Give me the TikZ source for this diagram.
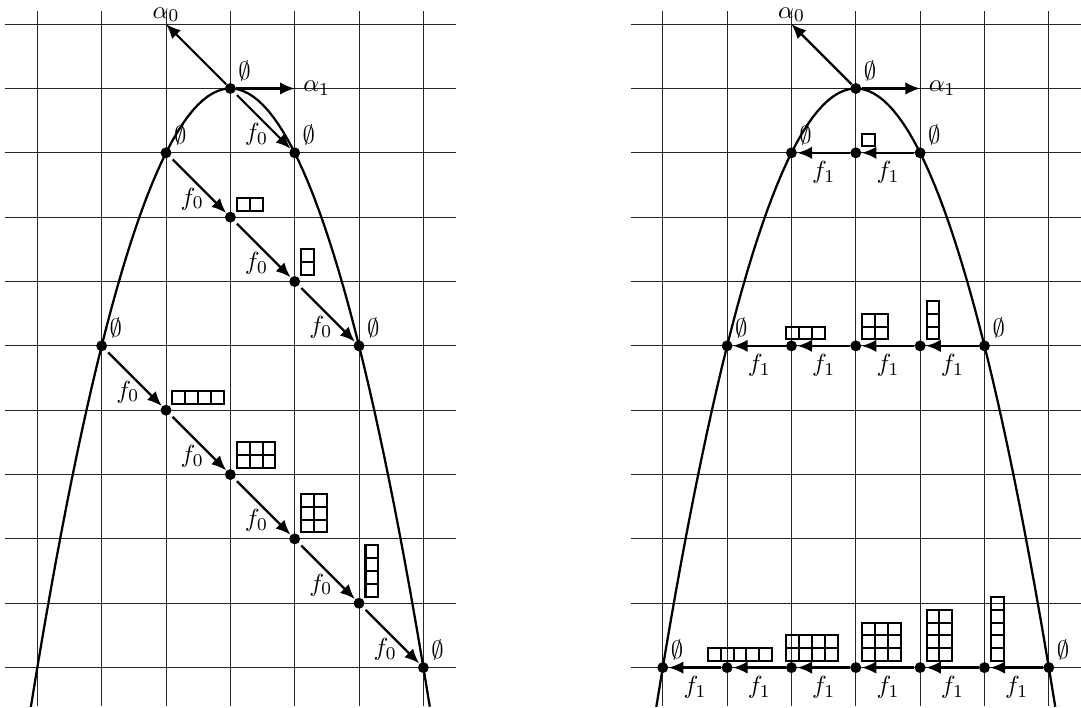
\documentclass[tikz,border=0pt]{standalone}
\usepackage{amsmath,amssymb}
\usepackage{tikz}
\usetikzlibrary{arrows.meta}
\tikzset{
    gridline/.style={line width=0.45pt, black!85},
    parab/.style={line width=1pt, black},
    dot/.style={circle, fill=black, inner sep=0pt, minimum size=0.17cm},
    % 空分拆标签
    emptylabel/.style={label={[inner sep=1.5pt]above right:$\emptyset$}},
    farrow/.style={
        line width=1pt,
        black,
        -{Latex[length=6.5pt, width=5.5pt]}
    },
    flabel/.style={left, near end}
}
% Young 图: 点, x 偏移, 列数, 行数
\newcommand{\ydiag}[4]{%
  \begin{scope}[shift={(#1)}]
    \foreach \i in {1,...,#3}{
      \foreach \j in {1,...,#4}{
        \draw[line width=0.9pt] (#2+\i*0.2-0.2, 0.1+\j*0.2-0.2) rectangle ++(0.2,0.2);
      }
    }
  \end{scope}}

\begin{document}
\begin{tikzpicture}[font=\fontsize{11}{13}\selectfont]
  \useasboundingbox (-3.58,-9.62) rectangle (13.22,1.375);

  % 左图
  \foreach \y in {1,0,...,-9} \draw[gridline] (-3.5,\y) -- (3.5,\y);
  \foreach \x in {-3,...,3} \draw[gridline] (\x,1.2) -- (\x,-9.6);
  \draw[parab] plot[domain=-3.1:3.1, samples=80] (\x,{-\x*\x});

  \node[dot, emptylabel] (L0) at (0,0) {};
  \coordinate (La0) at (-1,1);
  \coordinate (La1) at (1,0);
  \draw[farrow] (L0) -- (La0) node[above, inner sep=0.5pt] {$\alpha_0$};
  \draw[farrow] (L0) -- (La1) node[right] {$\alpha_1$};

  \node[dot, emptylabel] (L1m1) at (-1,-1) {};
  \node[dot, emptylabel] (L1p1) at (1,-1) {};
  \node[dot] (L20) at (0,-2) {};
  \node[dot] (L3p1) at (1,-3) {};
  \node[dot, emptylabel] (L4m2) at (-2,-4) {};
  \node[dot, emptylabel] (L4p2) at (2,-4) {};
  \node[dot] (L5m1) at (-1,-5) {};
  \node[dot] (L60) at (0,-6) {};
  \node[dot] (L7p1) at (1,-7) {};
  \node[dot] (L8p2) at (2,-8) {};
  \node[dot, emptylabel] (L9p3) at (3,-9) {};

  \foreach \a/\b in {L0/L1p1, L1m1/L20, L20/L3p1, L3p1/L4p2,
                     L4m2/L5m1, L5m1/L60, L60/L7p1, L7p1/L8p2, L8p2/L9p3}
    \draw[farrow, shorten <=1.5pt] (\a) -- node[flabel] {$f_0$} (\b);

  \ydiag{L20}{0.1}{2}{1}
  \ydiag{L3p1}{0.1}{1}{2}
  \ydiag{L5m1}{0.1}{4}{1}
  \ydiag{L60}{0.1}{3}{2}
  \ydiag{L7p1}{0.1}{2}{3}
  \ydiag{L8p2}{0.1}{1}{4}

  % 右图
  \begin{scope}[xshift=9.72cm]
    \foreach \y in {1,0,...,-9} \draw[gridline] (-3.5,\y) -- (3.5,\y);
    \foreach \x in {-3,...,3} \draw[gridline] (\x,1.2) -- (\x,-9.6);
    \draw[parab] plot[domain=-3.1:3.1, samples=80] (\x,{-\x*\x});

    \node[dot, emptylabel] (R0) at (0,0) {};
    \coordinate (Ra0) at (-1,1);
    \coordinate (Ra1) at (1,0);
    \draw[farrow] (R0) -- (Ra0) node[above, inner sep=0.5pt] {$\alpha_0$};
    \draw[farrow] (R0) -- (Ra1) node[right] {$\alpha_1$};

    \node[dot, emptylabel] (R1m1) at (-1,-1) {};
    \node[dot] (R10) at (0,-1) {};
    \node[dot, emptylabel] (R1p1) at (1,-1) {};

    \node[dot, emptylabel] (R4m2) at (-2,-4) {};
    \node[dot] (R4m1) at (-1,-4) {};
    \node[dot] (R40) at (0,-4) {};
    \node[dot] (R4p1) at (1,-4) {};
    \node[dot, emptylabel] (R4p2) at (2,-4) {};

    \node[dot, emptylabel] (R9m3) at (-3,-9) {};
    \node[dot] (R9m2) at (-2,-9) {};
    \node[dot] (R9m1) at (-1,-9) {};
    \node[dot] (R90) at (0,-9) {};
    \node[dot] (R9p1) at (1,-9) {};
    \node[dot] (R9p2) at (2,-9) {};
    \node[dot, emptylabel] (R9p3) at (3,-9) {};

    \foreach \a/\b in {R1p1/R10, R10/R1m1,
                       R4p2/R4p1, R4p1/R40, R40/R4m1, R4m1/R4m2,
                       R9p3/R9p2, R9p2/R9p1, R9p1/R90, R90/R9m1, R9m1/R9m2, R9m2/R9m3}
      \draw[farrow] (\a) -- node[below] {$f_1$} (\b);

    \ydiag{R10}{0.1}{1}{1}
    \ydiag{R4p1}{0.1}{1}{3}
    \ydiag{R40}{0.1}{2}{2}
    \ydiag{R4m1}{-0.08}{3}{1}
    \ydiag{R9p2}{0.1}{1}{5}
    \ydiag{R9p1}{0.1}{2}{4}
    \ydiag{R90}{0.1}{3}{3}
    \ydiag{R9m1}{-0.08}{4}{2}
    \ydiag{R9m2}{-0.3}{5}{1}
  \end{scope}
\end{tikzpicture}
\end{document}
